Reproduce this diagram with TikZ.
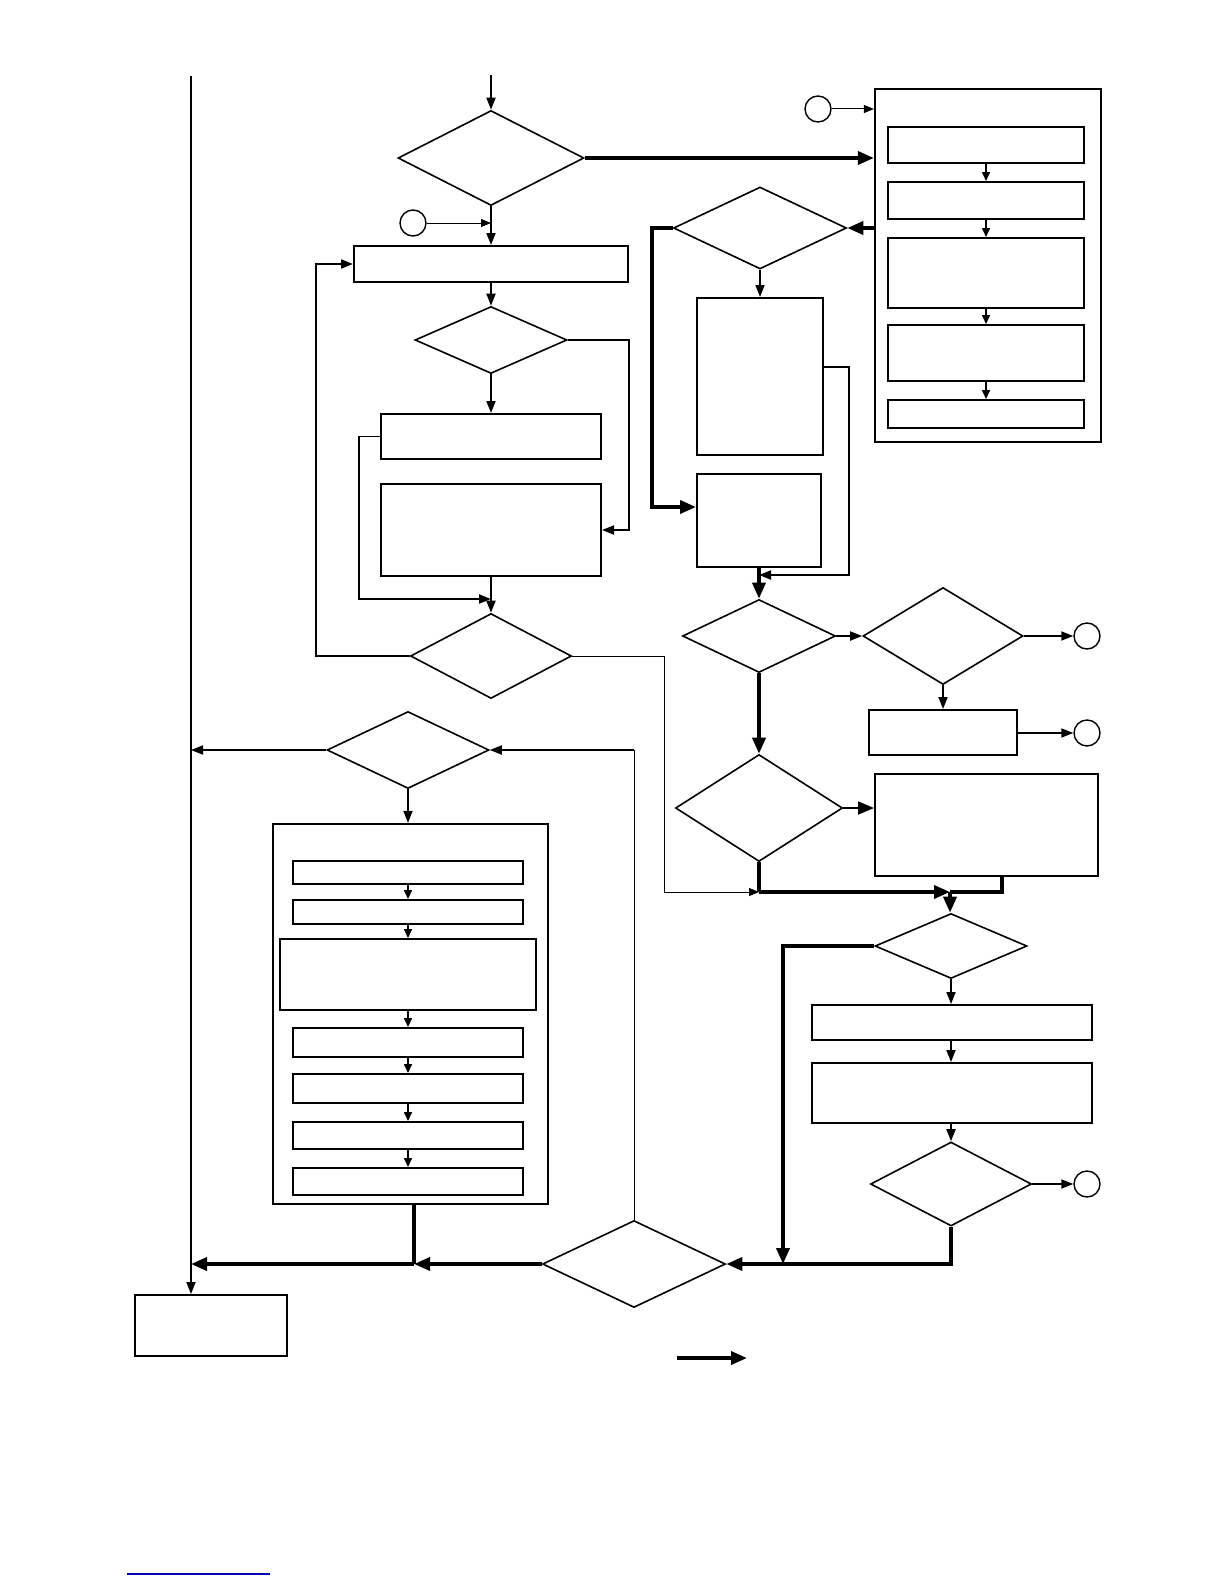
\documentclass[tikz,border=0pt]{standalone}
\usetikzlibrary{arrows.meta,shapes.geometric,fit}
\begin{document}
\begin{tikzpicture}[x=0.5pt,y=-0.5pt,
  box/.style={draw, rectangle, inner sep=0pt, line width=1pt},
  bigbox/.style={draw, rectangle, inner sep=0pt, line width=1.1pt},
  dia/.style={draw, diamond, inner sep=0pt, line width=0.8pt},
  circ/.style={draw, circle, inner sep=0pt, minimum size=13pt, line width=0.7pt},
  thinln/.style={line width=0.5pt, -{Triangle[length=5pt,width=4pt]}},
  thinplain/.style={line width=0.5pt},
  medln/.style={line width=0.9pt, -{Triangle[length=6pt,width=4.5pt]}},
  medplain/.style={line width=0.9pt},
  smallln/.style={line width=0.8pt, -{Triangle[length=4.5pt,width=4pt]}},
  thkln/.style={line width=1.8pt, -{Triangle[length=8pt,width=6.5pt]}},
  thkplain/.style={line width=1.8pt},
  bigtip/.style={line width=0.9pt, -{Triangle[length=8pt,width=6.5pt]}}
]
\fill[white] (0,0) rectangle (1224,1584);
\useasboundingbox (0,0) rectangle (1224,1584);

% ---------- boxes ----------
\node[box, fit={(354,246) (628,282)}] (B1) {};
\node[box, fit={(381,414) (601,459)}] (B2) {};
\node[box, fit={(381,484) (601,576)}] (B3) {};
\node[bigbox, fit={(875,89) (1101,442)}] (BB) {};
\node[box, fit={(888,127) (1084,163)}] (I1) {};
\node[box, fit={(888,182) (1084,219)}] (I2) {};
\node[box, fit={(888,238) (1084,308)}] (I3) {};
\node[box, fit={(888,325) (1084,381)}] (I4) {};
\node[box, fit={(888,400) (1084,428)}] (I5) {};
\node[box, fit={(697,298) (823,455)}] (R1) {};
\node[box, fit={(697,474) (821,567)}] (R2) {};
\node[box, fit={(869,710) (1017,755)}] (R3) {};
\node[box, fit={(875,774) (1098,876)}] (R4) {};
\node[box, fit={(812,1005) (1092,1040)}] (R5) {};
\node[box, fit={(812,1063) (1092,1123)}] (R6) {};
\node[bigbox, fit={(273,824) (548,1204)}] (BB2) {};
\node[box, fit={(293,861) (523,884)}] (J1) {};
\node[box, fit={(293,900) (523,924)}] (J2) {};
\node[box, fit={(280,939) (536,1010)}] (J3) {};
\node[box, fit={(293,1028) (523,1057)}] (J4) {};
\node[box, fit={(293,1074) (523,1103)}] (J5) {};
\node[box, fit={(293,1122) (523,1149)}] (J6) {};
\node[box, fit={(293,1168) (523,1195)}] (J7) {};
\node[box, fit={(135,1295) (287,1356)}] (FB) {};

% ---------- diamonds ----------
\node[dia, minimum width=93pt, minimum height=47.5pt] (D1) at (491,158) {};
\node[dia, minimum width=76pt, minimum height=33.5pt] (D2) at (491,340) {};
\node[dia, minimum width=80.5pt, minimum height=42.5pt] (D3) at (491,656) {};
\node[dia, minimum width=86.5pt, minimum height=41pt] (D4) at (760,228) {};
\node[dia, minimum width=76.5pt, minimum height=36.5pt] (D5) at (759,636) {};
\node[dia, minimum width=80pt, minimum height=48.5pt] (D6) at (943,636) {};
\node[dia, minimum width=83.5pt, minimum height=53.5pt] (D7) at (759,808) {};
\node[dia, minimum width=76pt, minimum height=32.5pt] (D8) at (951,946) {};
\node[dia, minimum width=80.5pt, minimum height=42pt] (D10) at (951,1184) {};
\node[dia, minimum width=91.5pt, minimum height=43.5pt] (D9) at (634,1264) {};
\node[dia, minimum width=81pt, minimum height=38.5pt] (D11) at (408,750) {};

% ---------- circles ----------
\node[circ] (C1) at (818,109) {};
\node[circ] (C2) at (413,223) {};
\node[circ] (C3) at (1087,636) {};
\node[circ] (C4) at (1087,733) {};
\node[circ] (C5) at (1087,1184) {};

% ---------- helper coordinates ----------
\coordinate (top) at (491,75);
\coordinate (mtop) at (191,76);
\coordinate (k1) at (359,599);
\coordinate (j1) at (491,599);
\coordinate (k2) at (316,656);
\coordinate (k3) at (664,656);
\coordinate (j2) at (759,892);
\coordinate (k4) at (652,507);
\coordinate (p1) at (849,367);
\coordinate (j3) at (759,575);
\coordinate (j4) at (950,892);
\coordinate (r4b) at (1002,876);
\coordinate (r4c) at (1002,892);
\coordinate (j5) at (783,1264);
\coordinate (j6) at (414,1264);
\coordinate (bb2b) at (414,1204);
\coordinate (mj) at (191,1264);
\coordinate (l1) at (677,1358);
\coordinate (l2) at (747,1358);

% ---------- connectors: left column ----------
\draw[medln] (top) -- (D1.north);
\draw[thkln] (D1.east) -- (D1.east -| BB.west);
\draw[thinln] (C1.east) -- (C1.east -| BB.west);
\draw[medln] (D1.south) -- (D1.south |- B1.north);
\draw[thinln] (C2.east) -- (C2.east -| D1.south);
\draw[medln] (D2.north |- B1.south) -- (D2.north);
\draw[medln] (D2.south) -- (D2.south |- B2.north);
\draw[medln] (D2.east) -- (D2.east -| B1.east) |- (B3.east);
\draw[medln] (B2.west) -| (k1) -- (j1);
\draw[medln] (D3.north |- B3.south) -- (D3.north);
\draw[medln] (D3.west) -- (k2) |- (B1.west);
\draw[thinln] (D3.east) -- (k3) |- (j2);

% ---------- right column ----------
\draw[smallln] (I1.south) -- (I2.north);
\draw[smallln] (I2.south) -- (I3.north);
\draw[smallln] (I3.south) -- (I4.north);
\draw[smallln] (I4.south) -- (I5.north);
\draw[thkln] (BB.west |- D4.east) -- (D4.east);
\draw[thkln] (D4.west) -| (k4) -- (k4 -| R2.west);
\draw[medln] (D4.south) -- (D4.south |- R1.north);
\draw[medln] (p1 -| R1.east) -- (p1) |- (j3);
\draw[thkln] (D5.north |- R2.south) -- (D5.north);
\draw[medln] (D5.east) -- (D6.west);
\draw[medln] (D6.east) -- (C3.west);
\draw[medln] (D6.south) -- (D6.south |- R3.north);
\draw[medln] (R3.east |- C4.west) -- (C4.west);
\draw[thkln] (D5.south) -- (D7.north);
\draw[bigtip] (D7.east) -- (D7.east -| R4.west);
\draw[thkplain] (D7.south) -- (j2);
\draw[thkln] (j2) -- (j4);
\draw[thkplain] (r4b) -- (r4c) -- (j4);
\draw[thkln] (j4) -- (j4 |- D8.north);
\draw[medln] (D8.south) -- (D8.south |- R5.north);
\draw[medln] (D8.south |- R5.south) -- (D8.south |- R6.north);
\draw[medln] (D10.north |- R6.south) -- (D10.north);
\draw[medln] (D10.east) -- (C5.west);
\draw[thkln] (D8.west) -| (j5);
\draw[thkln] (D10.south) |- (D9.east);

% ---------- lower left ----------
\draw[thinplain] (D9.north) |- (D11.east -| D9.north);
\draw[medln] (D11.east -| D9.north) -- (D11.east);
\draw[medln] (D11.west) -- (D11.west -| mtop);
\draw[medln] (D11.south) -- (D11.south |- BB2.north);
\draw[smallln] (J1.south) -- (J2.north);
\draw[smallln] (J2.south) -- (J3.north);
\draw[smallln] (J3.south) -- (J4.north);
\draw[smallln] (J4.south) -- (J5.north);
\draw[smallln] (J5.south) -- (J6.north);
\draw[smallln] (J6.south) -- (J7.north);
\draw[thkplain] (bb2b) -- (j6);
\draw[thkln] (D9.west) -- (j6);
\draw[thkln] (j6) -- (mj);
\draw[medln] (mtop) -- (FB.north -| mtop);

% ---------- legend & footer ----------
\draw[thkln] (l1) -- (l2);
\draw[blue!70!black, line width=0.6pt] (127,1574) -- (270,1574);
\end{tikzpicture}
\end{document}
